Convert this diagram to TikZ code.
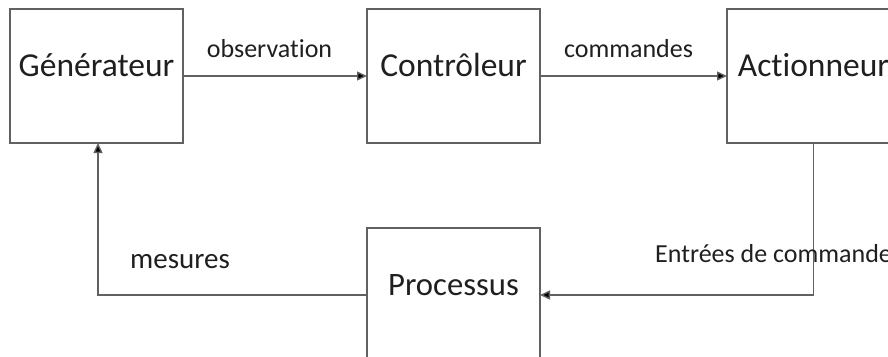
\documentclass[tikz,border=0pt]{standalone}
\usepackage{fontspec}
\setmainfont{Carlito}[Ligatures={NoCommon}]
\usetikzlibrary{arrows.meta}
\definecolor{linegray}{gray}{0.38}
\definecolor{inkgray}{gray}{0.12}
\tikzset{
  blockbox/.style={draw=linegray, line width=1.4pt, rectangle, outer sep=0pt,
    minimum width=173pt, minimum height=134pt, text=inkgray,
    font=\fontsize{33.5}{40}\selectfont, text height=12pt, text depth=12pt},
  flow/.style={draw=linegray, line width=1.4pt,
    -{Triangle[length=10pt,width=9pt,fill=black]}},
  flowlabel/.style={text=inkgray, anchor=base, inner sep=0pt,
    font=\fontsize{26}{30}\selectfont},
}
\begin{document}
\begin{tikzpicture}[x=1pt, y=-1pt]
  \useasboundingbox (0,0) rectangle (888,356);
  \clip (0,0) rectangle (888,356);

  % blocks of the loop
  \node[blockbox] (gen)  at (96.5,76)  {Générateur};
  \node[blockbox] (ctl)  at (453.5,76) {Contrôleur};
  \node[blockbox] (act)  at (813.5,76) {Actionneur};
  \node[blockbox, font=\fontsize{32.7}{40}\selectfont] (proc) at (453.5,295) {Processus};

  % connectors
  \draw[flow] (gen) -- (ctl);
  \draw[flow] (ctl) -- (act);
  \draw[flow] (act.south) |- (proc.east);
  \coordinate (up) at ([xshift=1.5pt]gen.south);
  \draw[flow] (proc.west) -| (up);

  % connector labels
  \node[flowlabel] (lobs) at (269.5,57) {observation};
  \node[flowlabel] (lcmd) at (628.5,57) {commandes};
  \node[flowlabel, font=\fontsize{29}{34}\selectfont] (lmes) at (180,268) {mesures};
  \node[flowlabel, anchor=base west] (lent) at (655,262) {Entrées de commande};
\end{tikzpicture}
\end{document}
